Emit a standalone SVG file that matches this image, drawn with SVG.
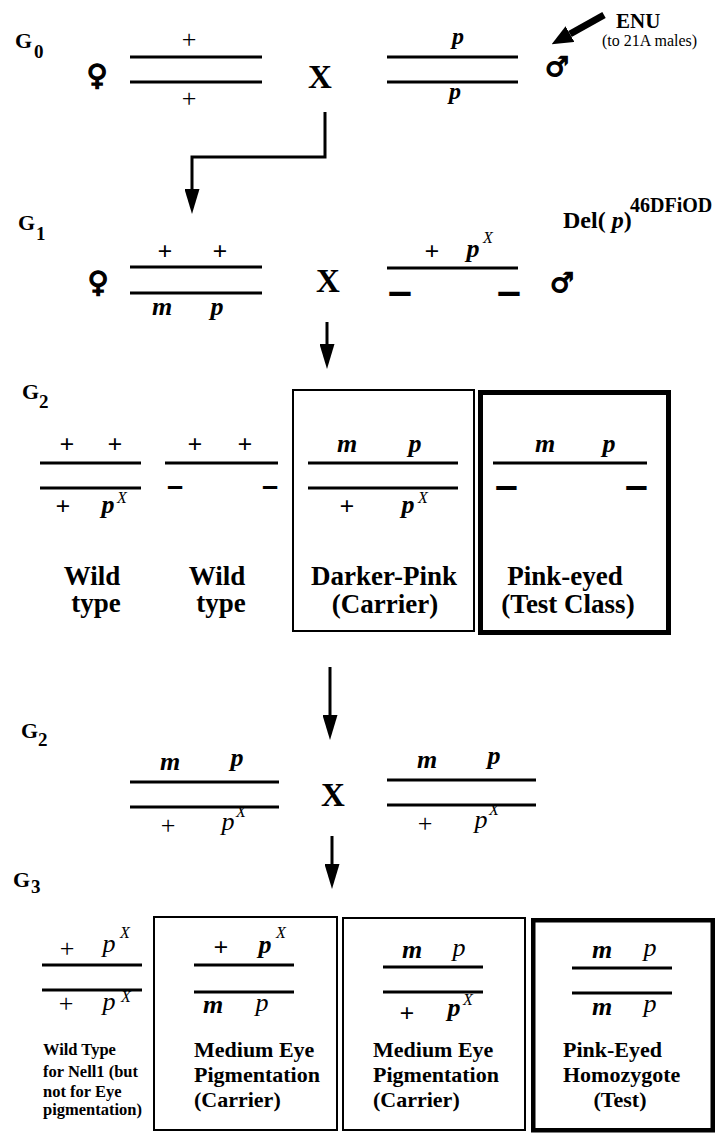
<svg xmlns="http://www.w3.org/2000/svg" width="717" height="1133" viewBox="0 0 717 1133">
<style>
text{font-family:'Liberation Serif','Times New Roman',Times,'DejaVu Serif','Noto Serif',serif;fill:#000}
.b{font-weight:bold}
.i{font-style:italic}
.g{font-size:26px}
.c{text-anchor:middle}
.sup{font-style:italic;font-size:16px;text-anchor:middle}
.lab{font-weight:bold;font-size:27px;text-anchor:middle}
.lab3{font-weight:bold;font-size:22px}
.small{font-weight:bold;font-size:16.5px}
.gen{font-weight:bold;font-size:22px}
.sub{font-weight:bold;font-size:19px}
.cross{font-weight:bold;font-size:33px;text-anchor:middle}
.sym{font-family:'DejaVu Sans',sans-serif;font-weight:bold;text-anchor:middle;stroke:#000;stroke-width:1.3}
.dash{font-family:'Liberation Sans',Arial,sans-serif;font-weight:bold}
.chr{stroke:#000;stroke-width:3;fill:none}
.box{fill:none;stroke:#000;stroke-width:2}
.tbox{fill:none;stroke:#000;stroke-width:5}
.tbox3{fill:none;stroke:#000;stroke-width:4.5}
.arr{stroke:#000;stroke-width:3;fill:none}
</style>
<defs>
<marker id="ah" markerUnits="userSpaceOnUse" markerWidth="25" markerHeight="15" refX="0" refY="7.5" orient="auto" viewBox="0 0 25 15">
<path d="M0,0 L25,7.5 L0,15 z" fill="#000"/>
</marker>
<marker id="ah2" markerUnits="userSpaceOnUse" markerWidth="21" markerHeight="18" refX="0" refY="9" orient="auto" viewBox="0 0 21 18">
<path d="M0,0 L21,9 L0,18 z" fill="#000"/>
</marker>
</defs>
<rect width="717" height="1133" fill="#fff"/>

<g id="generation-labels">
<text class="gen" x="15" y="48">G</text><text class="sub" x="34" y="58">0</text>
<text class="gen" x="18" y="230">G</text><text class="sub" x="36" y="240">1</text>
<text class="gen" x="22" y="399">G</text><text class="sub" x="39" y="408">2</text>
<text class="gen" x="21" y="738">G</text><text class="sub" x="38" y="746">2</text>
<text class="gen" x="13" y="887">G</text><text class="sub" x="31" y="893">3</text>
</g>

<g id="connectors">
<path class="arr" d="M325 112 V157 H192 V189" marker-end="url(#ah)"/>
<path class="arr" d="M327 322 V344" marker-end="url(#ah)"/>
<path class="arr" d="M330 667 V715" marker-end="url(#ah)"/>
<path class="arr" d="M332 836 V864" marker-end="url(#ah)"/>
<path d="M604 15 L570 34" stroke="#000" stroke-width="7" fill="none" marker-end="url(#ah2)"/>
</g>

<g id="enu">
<text class="b" x="616" y="28" font-size="21">ENU</text>
<text x="602" y="46" font-size="16">(to 21A males)</text>
</g>

<g id="g0-female">
<text class="sym" x="97" y="85" font-size="29">♀</text>
<line class="chr" x1="130" y1="57" x2="262" y2="57"/>
<line class="chr" x1="130" y1="82" x2="262" y2="82"/>
<text class="g c" x="189" y="48">+</text>
<text class="g c" x="189" y="107">+</text>
</g>
<text id="g0-cross" class="cross" x="320" y="88">X</text>
<g id="g0-male">
<line class="chr" x1="387" y1="57" x2="518" y2="57"/>
<line class="chr" x1="387" y1="82" x2="518" y2="82"/>
<text class="b i c" x="458" y="44" font-size="24">p</text>
<text class="b i c" x="455" y="99" font-size="24">p</text>
<text class="sym" x="557" y="76" font-size="27">♂</text>
</g>

<g id="g1-female">
<text class="sym" x="98" y="292" font-size="29">♀</text>
<line class="chr" x1="130" y1="267" x2="262" y2="267"/>
<line class="chr" x1="130" y1="293" x2="262" y2="293"/>
<text class="b g c" x="165" y="260">+</text>
<text class="b g c" x="220" y="260">+</text>
<text class="b i g c" x="162" y="315">m</text>
<text class="b i g c" x="217" y="315">p</text>
</g>
<text id="g1-cross" class="cross" x="328" y="292">X</text>
<g id="g1-male">
<line class="chr" x1="387" y1="268" x2="518" y2="268"/>
<text class="b g c" x="432" y="260">+</text>
<text class="b i g c" x="473" y="257">p</text>
<text class="sup" x="488" y="243">X</text>
<text class="dash" x="388" y="305" font-size="43">–</text>
<text class="dash" x="497" y="305" font-size="43">–</text>
<text class="sym" x="562" y="292" font-size="27">♂</text>
<text class="b" x="563" y="228" font-size="24">Del( <tspan class="i">p</tspan>)</text>
<text class="b" x="630" y="212" font-size="20">46DFiOD</text>
</g>

<g id="g2-wildtype-1">
<line class="chr" x1="40" y1="463" x2="141" y2="463"/>
<line class="chr" x1="40" y1="488" x2="141" y2="488"/>
<text class="b g c" x="67" y="453">+</text>
<text class="b g c" x="115" y="453">+</text>
<text class="b g c" x="63" y="515">+</text>
<text class="b i g c" x="108" y="513">p</text>
<text class="sup" x="122" y="503">X</text>
<text class="lab" x="92" y="585">Wild</text>
<text class="lab" x="96" y="612">type</text>
</g>
<g id="g2-wildtype-2">
<line class="chr" x1="165" y1="463" x2="278" y2="463"/>
<text class="b g c" x="195" y="453">+</text>
<text class="b g c" x="245" y="453">+</text>
<text class="dash" x="167" y="496" font-size="29">–</text>
<text class="dash" x="262" y="496" font-size="29">–</text>
<text class="lab" x="217" y="585">Wild</text>
<text class="lab" x="221" y="612">type</text>
</g>
<g id="g2-carrier">
<rect class="box" x="293" y="390" width="181" height="241"/>
<line class="chr" x1="308" y1="463" x2="458" y2="463"/>
<line class="chr" x1="308" y1="488" x2="458" y2="488"/>
<text class="b i g c" x="347" y="452">m</text>
<text class="b i g c" x="415" y="452">p</text>
<text class="b g c" x="347" y="515">+</text>
<text class="b i g c" x="408" y="513">p</text>
<text class="sup" x="423" y="503">X</text>
<text class="lab" x="384" y="585">Darker-Pink</text>
<text class="lab" x="385" y="613">(Carrier)</text>
</g>
<g id="g2-test">
<rect class="tbox" x="480.5" y="392.5" width="188" height="240"/>
<line class="chr" x1="493" y1="463" x2="647" y2="463"/>
<text class="dash" x="495" y="499" font-size="41">–</text>
<text class="dash" x="625" y="499" font-size="41">–</text>
<text class="b i g c" x="545" y="452">m</text>
<text class="b i g c" x="609" y="452">p</text>
<text class="lab" x="565" y="585">Pink-eyed</text>
<text class="lab" x="568" y="613">(Test Class)</text>
</g>

<g id="g2b-left">
<line class="chr" x1="130" y1="782" x2="279" y2="782"/>
<line class="chr" x1="130" y1="807" x2="279" y2="807"/>
<text class="b i g c" x="170" y="770">m</text>
<text class="b i g c" x="237" y="766">p</text>
<text class="g c" x="168" y="834">+</text>
<text class="i g c" x="228" y="830">p</text>
<text class="sup" x="241" y="817">X</text>
</g>
<text id="g2b-cross" class="cross" x="333" y="806">X</text>
<g id="g2b-right">
<line class="chr" x1="387" y1="780" x2="536" y2="780"/>
<line class="chr" x1="387" y1="805" x2="536" y2="805"/>
<text class="b i g c" x="427" y="768">m</text>
<text class="b i g c" x="494" y="764">p</text>
<text class="g c" x="425" y="832">+</text>
<text class="i g c" x="481" y="828">p</text>
<text class="sup" x="494" y="815">X</text>
</g>

<g id="g3-wildtype">
<line class="chr" x1="42" y1="965" x2="142" y2="965"/>
<line class="chr" x1="42" y1="990" x2="142" y2="990"/>
<text class="g c" x="67" y="957">+</text>
<text class="i g c" x="109" y="952">p</text>
<text class="sup" x="125" y="938">X</text>
<text class="g c" x="66" y="1012">+</text>
<text class="i g c" x="109" y="1010">p</text>
<text class="sup" x="126" y="1002">X</text>
<text class="small" x="43" y="1055">Wild Type</text>
<text class="small" x="43" y="1077">for Nell1 (but</text>
<text class="small" x="43" y="1097">not for Eye</text>
<text class="small" x="43" y="1115">pigmentation)</text>
</g>
<g id="g3-carrier-1">
<rect class="box" x="154" y="917" width="183" height="213"/>
<line class="chr" x1="194" y1="965" x2="294" y2="965"/>
<line class="chr" x1="194" y1="992" x2="294" y2="992"/>
<text class="b g c" x="221" y="956">+</text>
<text class="b i g c" x="265" y="953">p</text>
<text class="sup" x="281" y="938">X</text>
<text class="b i g c" x="213" y="1013">m</text>
<text class="i g c" x="262" y="1011">p</text>
<text class="lab3" x="194" y="1057">Medium Eye</text>
<text class="lab3" x="194" y="1082">Pigmentation</text>
<text class="lab3" x="194" y="1107">(Carrier)</text>
</g>
<g id="g3-carrier-2">
<rect class="box" x="343" y="918" width="182" height="212"/>
<line class="chr" x1="383" y1="967" x2="483" y2="967"/>
<line class="chr" x1="383" y1="992" x2="483" y2="992"/>
<text class="b i g c" x="412" y="958">m</text>
<text class="i g c" x="459" y="956">p</text>
<text class="b g c" x="407" y="1022">+</text>
<text class="b i g c" x="454" y="1016">p</text>
<text class="sup" x="468" y="1005">X</text>
<text class="lab3" x="373" y="1057">Medium Eye</text>
<text class="lab3" x="373" y="1082">Pigmentation</text>
<text class="lab3" x="373" y="1107">(Carrier)</text>
</g>
<g id="g3-test">
<rect class="tbox3" x="533.25" y="920.25" width="179.5" height="210"/>
<line class="chr" x1="572" y1="968" x2="672" y2="968"/>
<line class="chr" x1="572" y1="993" x2="672" y2="993"/>
<text class="b i g c" x="602" y="958">m</text>
<text class="i g c" x="650" y="956">p</text>
<text class="b i g c" x="602" y="1015">m</text>
<text class="i g c" x="650" y="1012">p</text>
<text class="lab3" x="563" y="1057">Pink-Eyed</text>
<text class="lab3" x="563" y="1082">Homozygote</text>
<text class="lab3" x="620" y="1107" text-anchor="middle">(Test)</text>
</g>
</svg>
